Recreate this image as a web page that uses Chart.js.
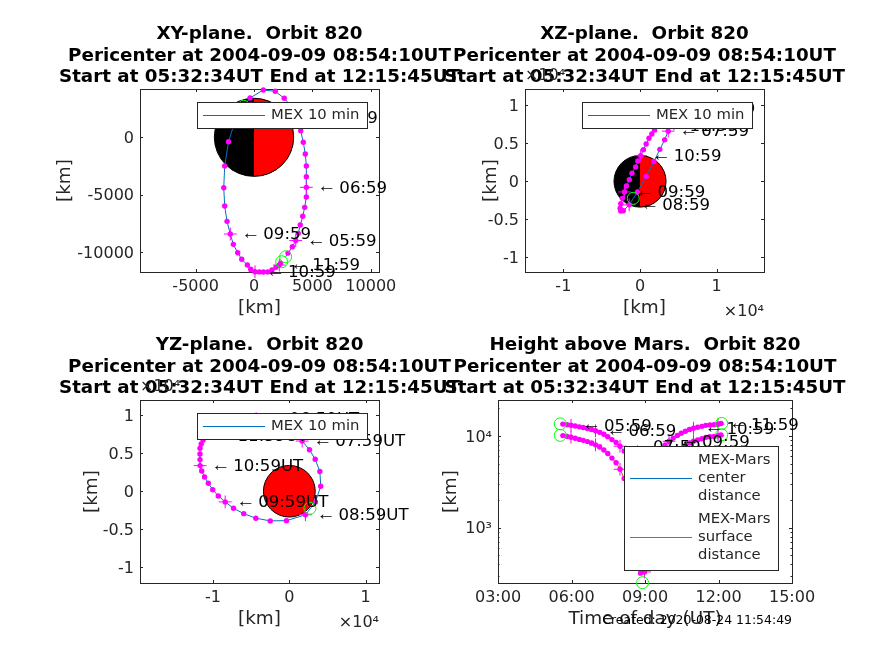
<!DOCTYPE html>
<html>
<head>
<meta charset="utf-8">
<title>Orbit 820</title>
<script src="https://cdn.jsdelivr.net/npm/chart.js@4/dist/chart.umd.min.js"></script>
<style>
  html, body { margin: 0; padding: 0; background: #fff; }
  canvas { position: absolute; left: 0; top: 0; }
</style>
</head>
<body>
<canvas id="xyChart" width="874" height="655"></canvas>
<canvas id="xzChart" width="874" height="655"></canvas>
<canvas id="yzChart" width="874" height="655"></canvas>
<canvas id="heightChart" width="874" height="655"></canvas>
<script>
// 10 min samples 05:39 ... 12:09 (km)
const hourOfDay = [5.65, 5.82, 5.98, 6.15, 6.32, 6.48, 6.65, 6.82, 6.98, 7.15, 7.32, 7.48, 7.65, 7.82, 7.98,
  8.15, 8.32, 8.48, 8.65, 8.82, 8.98, 9.15, 9.32, 9.48, 9.65, 9.82, 9.98, 10.15, 10.32, 10.48, 10.65, 10.82, 10.98,
  11.15, 11.32, 11.48, 11.65, 11.82, 11.98, 12.1];
const orbitX = [2910, 3280, 3570, 3790, 3960, 4170, 4340, 4480, 4480, 4480, 4480, 4390, 4220, 4000, 3680,
  3210, 2590, 1820, 800, -340, -1410, -2180, -2510, -2590, -2510, -2310, -2030, -1770, -1395, -1050, -570, -280, 85,
  450, 800, 1170, 1540, 1880, 2165, 2285];
const orbitY = [-10070, -9520, -8980, -8350, -7630, -6870, -6090, -5190, -4350, -3430, -2500, -1450, -435, 575, 1680,
  2640, 3390, 4000, 4115, 3420, 2110, -380, -2500, -4385, -5980, -7310, -8410, -9310, -10040, -10610, -11110, -11480, -11690,
  -11705, -11710, -11705, -11545, -11310, -11110, -10940];
const orbitZ = [8500, 8700, 8850, 9000, 9200, 9400, 9500, 9600, 9550, 9400, 9100, 8700, 8100, 7500, 6600,
  5450, 4200, 2600, 650, -1400, -3100, -3870, -3900, -3550, -2950, -2240, -1400, -620, 200, 1050, 1880, 2670, 3370,
  4160, 4900, 5660, 6220, 6750, 7280, 7900];
const centerDistance = [13500, 13310, 13100, 12850, 12590, 12370, 12090, 11800, 11410, 10970, 10450, 9850, 9140, 8520, 7740,
  6850, 5980, 5110, 4240, 3716, 3726, 4460, 5270, 6205, 7125, 7980, 8760, 9500, 10140, 10710, 11280, 11790, 12170,
  12450, 12750, 13070, 13200, 13300, 13460, 13690];
const surfaceDistance = [10104, 9914, 9704, 9454, 9194, 8974, 8694, 8404, 8014, 7574, 7054, 6454, 5744, 5124, 4344,
  3454, 2584, 1714, 844, 320, 330, 1064, 1874, 2809, 3729, 4584, 5364, 6104, 6744, 7314, 7884, 8394, 8774,
  9054, 9354, 9674, 9804, 9904, 10064, 10294];

// start 05:32, pericenter 08:54, end 12:15
const specialHour = [5.54, 8.9, 12.13];
const specialX = [2710, -885, 2370];
const specialY = [-10390, 2700, -10820];
const specialZ = [8300, -2240, 8100];
const specialCenter = [13570, 3648, 13720];
const specialSurface = [10170, 252, 10320];

// hourly samples that get a cross and a text label
const hourlyIndex = [2, 8, 14, 20, 26, 32, 38];
const hourlyLabels = ['05:59', '06:59', '07:59', '08:59', '09:59', '10:59', '11:59'];

const marsRadius = 3396;

const xyTicksX = [-5000, 0, 5000, 10000];
const xyTicksY = [-10000, -5000, 0];
const planeTicksX = [-10000, 0, 10000];
const planeTicksY = [-10000, -5000, 0, 5000, 10000];
const heightTicksX = [3, 6, 9, 12, 15];
const heightTickLabels = ['03:00', '06:00', '09:00', '12:00', '15:00'];
const heightTicksY = [1000, 10000];
const heightTickLabelsY = ['10³', '10⁴'];
const heightMinorTicks = [300, 400, 500, 600, 700, 800, 900, 2000, 3000, 4000, 5000, 6000, 7000, 8000, 9000, 20000];

const periLine = 'Pericenter at 2004-09-09 08:54:10UT';
const startEndLine = 'Start at 05:32:34UT End at 12:15:45UT';

const FONT = '"DejaVu Sans"';
const INK = '#262626';
const MAGENTA = '#ff00ff';
const GREEN = '#00ff00';
const BLUE = '#0072bd';
const ORANGE = '#d95319';

function toPoints(xs, ys) {
    return xs.map((x, i) => ({ x: x, y: ys[i] }));
}

function pickHourly(values) {
    return hourlyIndex.map(i => values[i]);
}

// one curve with its 10 min dots, hourly crosses and green start / pericenter / end circles
function curveDatasets(xs, ys, specialXs, specialYs, color) {
    const line = toPoints(
        [specialXs[0]].concat(xs, [specialXs[2]]),
        [specialYs[0]].concat(ys, [specialYs[2]])
    );
    return [
        { data: toPoints(specialXs, specialYs), pointStyle: 'circle', pointRadius: 6, pointBorderWidth: 1,
          pointBorderColor: GREEN, pointBackgroundColor: 'rgba(0,0,0,0)', clip: false },
        { data: toPoints(pickHourly(xs), pickHourly(ys)), pointStyle: 'cross', pointRadius: 6.4, pointBorderWidth: 1,
          pointBorderColor: MAGENTA, clip: false },
        { data: toPoints(xs, ys), pointRadius: 2.7, pointBorderWidth: 0, pointBackgroundColor: MAGENTA, clip: false },
        { data: line, showLine: true, pointRadius: 0, borderColor: color, borderWidth: 1 }
    ];
}

function linearAxis(min, max, tickValues, format, titleText, size, tickPadding) {
    return {
        type: 'linear', min: min, max: max,
        grid: { display: false, drawTicks: false },
        border: { display: false },
        afterBuildTicks: axis => { axis.ticks = tickValues.map(v => ({ value: v })); },
        afterFit: axis => { if (axis.isHorizontal()) axis.height = size; else axis.width = size; },
        ticks: { callback: format, color: INK, padding: tickPadding, autoSkip: false, maxRotation: 0,
                 font: { family: FONT, size: 16 } },
        title: { display: true, text: titleText, color: INK, padding: 0, font: { family: FONT, size: 18.4 } }
    };
}

function verticalAxis(min, max, tickValues, format, titleText, size) {
    const axis = linearAxis(min, max, tickValues, format, titleText, size, 6);
    axis.ticks.labelOffset = 1.5;
    return axis;
}

// everything MATLAB draws round the data: box, inward ticks, Mars, labels, legend
function panelDecor(cfg) {
    return {
        id: 'panelDecor',
        afterLayout(chart) {
            // keep the wide title centred over the plot box
            const area = chart.chartArea;
            const mid = (area.left + area.right) / 2;
            chart.titleBlock.left = mid - 250;
            chart.titleBlock.right = mid + 250;
        },
        beforeDatasetsDraw(chart) {
            const ctx = chart.ctx, a = chart.chartArea, sx = chart.scales.x, sy = chart.scales.y;
            ctx.save();
            if (cfg.disc) {
                const cx = sx.getPixelForValue(0), cy = sy.getPixelForValue(0);
                const rx = sx.getPixelForValue(marsRadius) - cx;
                const ry = cy - sy.getPixelForValue(marsRadius);
                ctx.beginPath();
                ctx.ellipse(cx, cy, rx, ry, 0, 0, Math.PI * 2);
                ctx.fillStyle = cfg.disc === 'split' ? '#000' : '#f00';
                ctx.fill();
                if (cfg.disc === 'split') {
                    ctx.beginPath();
                    ctx.ellipse(cx, cy, rx, ry, 0, -Math.PI / 2, Math.PI / 2);
                    ctx.fillStyle = '#f00';
                    ctx.fill();
                }
                ctx.beginPath();
                ctx.ellipse(cx, cy, rx, ry, 0, 0, Math.PI * 2);
                ctx.strokeStyle = '#000';
                ctx.lineWidth = 1;
                ctx.stroke();
            }
            ctx.strokeStyle = INK;
            ctx.lineWidth = 1;
            ctx.strokeRect(a.left + 0.5, a.top + 0.5, a.right - a.left, a.bottom - a.top);
            ctx.beginPath();
            sx.ticks.forEach(t => {
                const x = Math.round(sx.getPixelForValue(t.value)) + 0.5;
                ctx.moveTo(x, a.bottom); ctx.lineTo(x, a.bottom - 3);
                ctx.moveTo(x, a.top); ctx.lineTo(x, a.top + 3);
            });
            sy.ticks.forEach(t => {
                const y = Math.round(sy.getPixelForValue(t.value)) + 0.5;
                ctx.moveTo(a.left, y); ctx.lineTo(a.left + 3, y);
                ctx.moveTo(a.right, y); ctx.lineTo(a.right - 3, y);
            });
            (cfg.minorY || []).forEach(v => {
                const y = Math.round(sy.getPixelForValue(v)) + 0.5;
                ctx.moveTo(a.left, y); ctx.lineTo(a.left + 1.5, y);
                ctx.moveTo(a.right, y); ctx.lineTo(a.right - 1.5, y);
            });
            ctx.stroke();
            ctx.restore();
        },
        afterDatasetsDraw(chart) {
            const ctx = chart.ctx, a = chart.chartArea, sx = chart.scales.x, sy = chart.scales.y;
            ctx.save();
            ctx.textBaseline = 'middle';
            ctx.textAlign = 'left';
            ctx.fillStyle = '#000';
            hourlyIndex.forEach((idx, i) => {
                const px = sx.getPixelForValue(cfg.labelX[idx]);
                const py = sy.getPixelForValue(cfg.labelY[idx]);
                ctx.font = '19px "Liberation Serif"';
                ctx.fillText('←', px + 11, py);
                ctx.font = '16.6px ' + FONT;
                ctx.fillText(hourlyLabels[i] + (cfg.labelSuffix || ''), px + 33, py + 1);
            });
            if (cfg.exponents) {
                ctx.fillStyle = INK;
                ctx.font = '16px ' + FONT;
                ctx.textAlign = 'right';
                ctx.fillText('×10⁴', a.right, a.bottom + 40);
                ctx.textAlign = 'left';
                ctx.fillText('×10⁴', a.left, a.top - 13);
            }
            // legend box goes over the labels
            const lg = cfg.legend;
            ctx.fillStyle = '#fff';
            ctx.fillRect(lg.x0, lg.y0, lg.x1 - lg.x0, lg.y1 - lg.y0);
            ctx.strokeStyle = INK;
            ctx.lineWidth = 1;
            ctx.strokeRect(lg.x0 + 0.5, lg.y0 + 0.5, lg.x1 - lg.x0, lg.y1 - lg.y0);
            ctx.font = '14.8px ' + FONT;
            lg.items.forEach(item => {
                const y = lg.y0 + item.y;
                ctx.strokeStyle = item.color;
                ctx.beginPath();
                ctx.moveTo(lg.x0 + 6, y + 0.5);
                ctx.lineTo(lg.x0 + 68, y + 0.5);
                ctx.stroke();
                ctx.fillStyle = INK;
                item.text.forEach((line, i) => {
                    ctx.fillText(line, lg.x0 + 74, y + 0.5 + (i - (item.text.length - 1) / 2) * 18);
                });
            });
            if (cfg.created) {
                ctx.fillStyle = '#000';
                ctx.font = '12.46px ' + FONT;
                ctx.textAlign = 'right';
                ctx.fillText(cfg.created, a.right, a.bottom + 38);
            }
            ctx.restore();
        }
    };
}

function makePanel(canvasId, box, titleFirst, xAxis, yAxis, datasets, decor) {
    return new Chart(document.getElementById(canvasId), {
        type: 'scatter',
        data: { datasets: datasets },
        plugins: [panelDecor(decor)],
        options: {
            responsive: false,
            animation: false,
            events: [],
            layout: { padding: {
                left: box.left - box.axisW,
                right: 874 - box.right,
                top: box.top - 65,
                bottom: 655 - box.bottom - box.axisH
            } },
            plugins: {
                legend: { display: false },
                tooltip: { enabled: false },
                title: {
                    display: true,
                    text: [titleFirst, periLine, startEndLine],
                    color: '#000',
                    padding: { top: 0, bottom: 0.5 },
                    font: { family: FONT, size: 18.3, weight: 'bold', lineHeight: 1.175 }
                }
            },
            scales: { x: xAxis, y: yAxis }
        }
    });
}

const plainTick = v => String(v);
const e4Tick = v => String(v / 10000);
const mexLegend = [{ color: BLUE, y: 13, text: ['MEX 10 min'] }];

makePanel('xyChart', { left: 140, right: 379, top: 89, bottom: 272, axisW: 86, axisH: 47 },
    'XY-plane.  Orbit 820',
    linearAxis(-9760, 10700, xyTicksX, plainTick, '[km]', 47, 5),
    verticalAxis(-11713, 4200, xyTicksY, plainTick, '[km]', 86),
    curveDatasets(orbitX, orbitY, specialX, specialY, BLUE),
    { disc: 'split', labelX: orbitX, labelY: orbitY,
      legend: { x0: 197, y0: 102, x1: 367, y1: 128, items: mexLegend } });

makePanel('xzChart', { left: 525, right: 764, top: 89, bottom: 272, axisW: 45, axisH: 47 },
    'XZ-plane.  Orbit 820',
    linearAxis(-15000, 16170, planeTicksX, e4Tick, '[km]', 47, 5),
    verticalAxis(-11930, 12140, planeTicksY, e4Tick, '[km]', 45),
    curveDatasets(orbitX, orbitZ, specialX, specialZ, BLUE),
    { disc: 'split', labelX: orbitX, labelY: orbitZ, exponents: true,
      legend: { x0: 582, y0: 102, x1: 752, y1: 128, items: mexLegend } });

makePanel('yzChart', { left: 140, right: 379, top: 400, bottom: 583, axisW: 59, axisH: 47 },
    'YZ-plane.  Orbit 820',
    linearAxis(-19570, 11750, planeTicksX, e4Tick, '[km]', 47, 5),
    verticalAxis(-12070, 12000, planeTicksY, e4Tick, '[km]', 59),
    curveDatasets(orbitY, orbitZ, specialY, specialZ, BLUE),
    { disc: 'full', labelX: orbitY, labelY: orbitZ, labelSuffix: 'UT', exponents: true,
      legend: { x0: 197, y0: 413, x1: 367, y1: 439, items: mexLegend } });

const heightXAxis = linearAxis(3, 15, heightTicksX, v => heightTickLabels[heightTicksX.indexOf(v)], 'Time of day (UT)', 47, 5);
const heightYAxis = verticalAxis(250, 24700, heightTicksY, v => heightTickLabelsY[heightTicksY.indexOf(v)], '[km]', 58);
heightYAxis.type = 'logarithmic';

makePanel('heightChart', { left: 498, right: 792, top: 400, bottom: 583, axisW: 58, axisH: 47 },
    'Height above Mars.  Orbit 820',
    heightXAxis,
    heightYAxis,
    curveDatasets(hourOfDay, centerDistance, specialHour, specialCenter, BLUE)
        .concat(curveDatasets(hourOfDay, surfaceDistance, specialHour, specialSurface, ORANGE)),
    { labelX: hourOfDay, labelY: centerDistance, minorY: heightMinorTicks,
      created: 'Created: 2020-08-24 11:54:49',
      legend: { x0: 624, y0: 446, x1: 778, y1: 570, items: [
          { color: BLUE, y: 32, text: ['MEX-Mars', 'center', 'distance'] },
          { color: ORANGE, y: 91, text: ['MEX-Mars', 'surface', 'distance'] }
      ] } });
</script>
</body>
</html>
